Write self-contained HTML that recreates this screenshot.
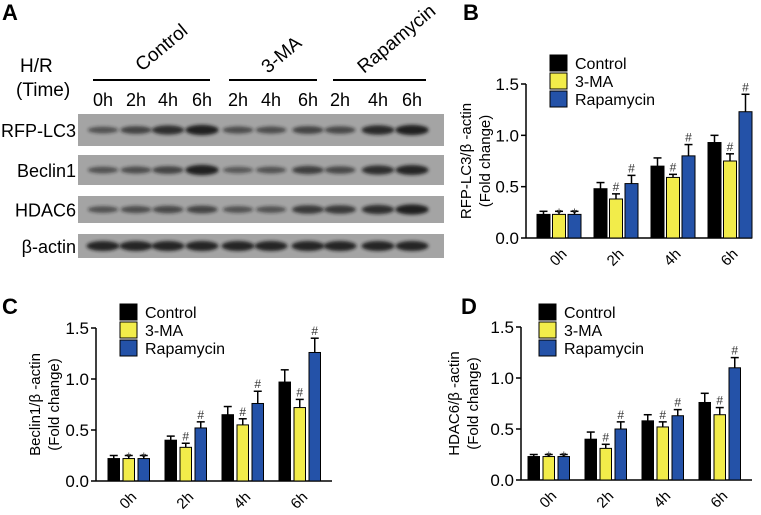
<!DOCTYPE html>
<html><head><meta charset="utf-8"><style>
body{margin:0;background:#fff;}
svg{display:block;font-family:"Liberation Sans","DejaVu Sans",sans-serif;}
</style></head><body>
<svg id="fig" width="761" height="515" viewBox="0 0 761 515">
<defs><filter id="blur" x="-20%" y="-50%" width="140%" height="200%"><feGaussianBlur stdDeviation="1.6"/></filter></defs>
<g id="panelA">
<text x="2" y="20" font-size="22" font-weight="bold">A</text>
<text x="20" y="72" font-size="19">H/R</text>
<text x="16" y="96" font-size="19">(Time)</text>
<text transform="translate(142,72) rotate(-40)" font-size="19">Control</text>
<text transform="translate(268,74) rotate(-40)" font-size="19">3-MA</text>
<text transform="translate(364,74) rotate(-40)" font-size="19">Rapamycin</text>
<line x1="93" y1="80" x2="210" y2="80" stroke="#000" stroke-width="2"/>
<line x1="229" y1="80" x2="317" y2="80" stroke="#000" stroke-width="2"/>
<line x1="333" y1="80" x2="426" y2="80" stroke="#000" stroke-width="2"/>
</g>
</svg>
<script>
const NS="http://www.w3.org/2000/svg";
const svg=document.getElementById('fig');
function el(tag,attrs,parent){const e=document.createElementNS(NS,tag);for(const k in attrs)e.setAttribute(k,attrs[k]);(parent||svg).appendChild(e);return e;}

// ---- Panel A data ----
const laneLabels=["0h","2h","4h","6h","2h","4h","6h","2h","4h","6h"];
const blotRows=["RFP-LC3","Beclin1","HDAC6","β-actin"];
const rfpBands=[0.4,0.55,0.75,0.9,0.45,0.45,0.55,0.5,0.8,0.9];
const beclinBands=[0.4,0.45,0.55,0.9,0.35,0.4,0.6,0.5,0.75,0.85];
const hdacBands=[0.4,0.45,0.5,0.55,0.4,0.4,0.65,0.65,0.75,0.9];
const actinBands=[0.85,0.85,0.85,0.85,0.85,0.85,0.85,0.85,0.85,0.85];

const pA=document.getElementById('panelA');
const laneX=[103,136,168,202,238,271,308,340,378,412];
const rowBoxes=[[114,32],[155,30],[196,27],[234,24]];
const bandSets=[rfpBands,beclinBands,hdacBands,actinBands];
laneLabels.forEach((l,i)=>{
  const t=el('text',{x:laneX[i],y:106,'font-size':18,'text-anchor':'middle'},pA);t.textContent=l;
  
  
});
blotRows.forEach((r,ri)=>{
  const [y,h]=rowBoxes[ri];
  const rect=el('rect',{x:78,y:y,width:366,height:h,fill:'#a4a4a4'},pA);
  
  
  const t=el('text',{x:76,y:y+h/2+7,'font-size':18,'text-anchor':'end'},pA);t.textContent=r;
  
  
  bandSets[ri].forEach((v,i)=>{
    const b=el('ellipse',{cx:laneX[i],cy:y+h/2,rx:14+v*3,ry:2+v*3.5,fill:'#1a1a1a','fill-opacity':0.35+v*0.65,filter:'url(#blur)'},pA);
    
    
  });
});

// ---- Bar chart data ----
const timepoints=["0h","2h","4h","6h"];
const seriesNames=["Control","3-MA","Rapamycin"];
const yTicks=[0,0.5,1.0,1.5];
const yTickLabels=["0.0","0.5","1.0","1.5"];
const bControl=[0.23,0.48,0.70,0.93], bControlErr=[0.03,0.06,0.08,0.07];
const b3MA=[0.23,0.38,0.59,0.75], b3MAErr=[0.03,0.05,0.03,0.07];
const bRapa=[0.23,0.53,0.80,1.23], bRapaErr=[0.03,0.08,0.11,0.17];
const cControl=[0.22,0.40,0.65,0.97], cControlErr=[0.03,0.04,0.08,0.12];
const c3MA=[0.22,0.33,0.55,0.72], c3MAErr=[0.03,0.04,0.06,0.08];
const cRapa=[0.22,0.52,0.76,1.26], cRapaErr=[0.03,0.06,0.12,0.14];
const dControl=[0.23,0.40,0.58,0.76], dControlErr=[0.02,0.07,0.06,0.09];
const d3MA=[0.23,0.31,0.52,0.64], d3MAErr=[0.02,0.04,0.05,0.07];
const dRapa=[0.23,0.50,0.63,1.10], dRapaErr=[0.02,0.07,0.06,0.10];
const sigMarks3MA=["*","#","#","#"];
const sigMarksRapa=["*","#","#","#"];

const colors=['#000000','#f2ec4a','#2452a8'];

function drawChart(cfg,vals,errs){
  const g=el('g',{});
  
  
  const yS=v=>cfg.y0-(v/1.5)*(cfg.y0-cfg.y15);
  const lab=el('text',{x:cfg.labX,y:cfg.labY,'font-size':22,'font-weight':'bold'},g);lab.textContent=cfg.letter;
  
  
  const ya=el('line',{x1:cfg.ax,y1:cfg.y15,x2:cfg.ax,y2:cfg.y0,stroke:'#000','stroke-width':1.5},g);
  
  
  const xa=el('line',{x1:cfg.ax,y1:cfg.y0,x2:cfg.axEnd,y2:cfg.y0,stroke:'#000','stroke-width':1.5},g);
  
  
  yTicks.forEach((t,i)=>{
    const y=yS(t);
    const tk=el('line',{x1:cfg.ax-5,y1:y,x2:cfg.ax,y2:y,stroke:'#000','stroke-width':1.5},g);
    
    
    const tl=el('text',{x:cfg.ax-7,y:y+6,'font-size':17,'text-anchor':'end'},g);tl.textContent=yTickLabels[i];
    
    
  });
  const yc=(cfg.y0+cfg.y15)/2;
  const t1=el('text',{transform:`translate(${cfg.t1x},${yc}) rotate(-90)`,'font-size':15,'text-anchor':'middle'},g);t1.textContent=cfg.title;
  
  
  const t2=el('text',{transform:`translate(${cfg.t1x+19},${yc}) rotate(-90)`,'font-size':15,'text-anchor':'middle'},g);t2.textContent="(Fold change)";
  
  
  timepoints.forEach((tp,gi)=>{
    const gx=cfg.first+gi*cfg.gap;
    for(let s=0;s<3;s++){
      const x=gx+s*cfg.step, v=vals[s][gi], e=errs[s][gi];
      const cx=x+cfg.bw/2;
      const el1=el('line',{x1:cx,y1:yS(v),x2:cx,y2:yS(v+e),stroke:'#000','stroke-width':1.5},g);
      
      
      const el2=el('line',{x1:cx-4,y1:yS(v+e),x2:cx+4,y2:yS(v+e),stroke:'#000','stroke-width':1.5},g);
      
      
      const r=el('rect',{x:x,y:yS(v),width:cfg.bw,height:yS(0)-yS(v),fill:colors[s],stroke:'#000','stroke-width':1},g);
      
      
      if(s>0){
        const m=(s===1?sigMarks3MA:sigMarksRapa)[gi];
        const mk=el('text',{x:cx,y:yS(v+e)-(m==='*'?-6:3),'font-size':m==='*'?13:12,'text-anchor':'middle',fill:'#333'},g);mk.textContent=m;
        
        
      }
    }
    const cx=gx+cfg.step+cfg.bw/2;
    const xl=el('text',{transform:`translate(${cx},${cfg.y0+20}) rotate(-45)`,'font-size':15,'text-anchor':'middle','dominant-baseline':'middle'},g);xl.textContent=tp;
    
    
  });
  seriesNames.forEach((n,s)=>{
    const y=cfg.legY+s*18;
    const sq=el('rect',{x:cfg.legX,y:y,width:17,height:16,fill:colors[s],stroke:'#000','stroke-width':1},g);
    
    
    const lt=el('text',{x:cfg.legX+25,y:y+14,'font-size':16},g);lt.textContent=n;
    
    
  });
}

drawChart({name:'chart-b',letter:'B',labX:463,labY:20,ax:526,axEnd:752,y0:238,y15:84,first:537,gap:57,step:15.5,bw:13,title:'RFP-LC3/β -actin',t1x:471,legX:550,legY:55},[bControl,b3MA,bRapa],[bControlErr,b3MAErr,bRapaErr]);
drawChart({name:'chart-c',letter:'C',labX:2,labY:314,ax:96,axEnd:332,y0:481,y15:328,first:108,gap:57,step:15,bw:11.5,title:'Beclin1/β -actin',t1x:40,legX:120,legY:304},[cControl,c3MA,cRapa],[cControlErr,c3MAErr,cRapaErr]);
drawChart({name:'chart-d',letter:'D',labX:461,labY:314,ax:521,axEnd:752,y0:480,y15:327,first:528,gap:57,step:15,bw:11.5,title:'HDAC6/β -actin',t1x:459,legX:539,legY:304},[dControl,d3MA,dRapa],[dControlErr,d3MAErr,dRapaErr]);
</script>
</body></html>
